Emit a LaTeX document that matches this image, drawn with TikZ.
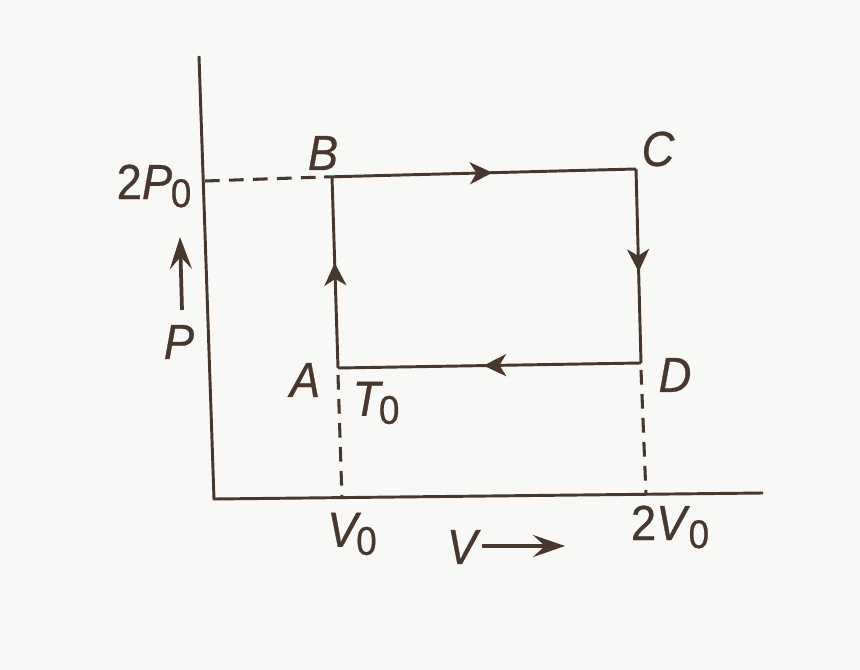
\documentclass[tikz,border=0pt]{standalone}
\usepackage{fontspec}
\setmainfont[FakeStretch=0.92,FakeBold=0.6]{Liberation Sans}
\usetikzlibrary{arrows.meta,decorations.markings}
\definecolor{ink}{HTML}{47372D}
\definecolor{paper}{HTML}{F8F8F7}
\tikzset{
 ln/.style={draw=ink,line width=2.2pt},
 dsh/.style={draw=ink,line width=2.3pt,dash pattern=on 11pt off 7pt},
 mid/.style={postaction={decorate},decoration={markings,mark=at position #1 with {\arrow{Stealth[length=17pt,width=16.5pt,inset=5pt,color=ink]}}}},
 lbl/.style={text=ink,font=\fontsize{37}{37}\selectfont\itshape,inner sep=0pt},
 lbr/.style={text=ink,font=\fontsize{37}{37}\selectfont,inner sep=0pt},
 ar/.style={draw=ink,line width=2.8pt,-{Stealth[length=24pt,width=16.5pt,inset=9pt]}}
}
\newcommand{\zsub}{\raisebox{-6pt}{\fontsize{30}{30}\selectfont\upshape 0}}
\begin{document}
\begin{tikzpicture}[x=0.75pt,y=-0.75pt]
\useasboundingbox (0,0) rectangle (860,670);
\fill[paper] (0,0) rectangle (860,670);
\coordinate (O) at (214,499);
\coordinate (Y) at (199,56);
\coordinate (X) at (763,493);
\coordinate (A) at (338,368);
\coordinate (B) at (332,177);
\coordinate (B2) at (324,177);
\coordinate (C) at (636,169);
\coordinate (D) at (641,363);
\coordinate (A2) at (338,375);
\coordinate (D2) at (641,370);
\coordinate (V1) at (342,499);
\coordinate (V2) at (646,495);
\coordinate (P2) at (205,181);
\draw[ln] (Y) -- (O) -- (X);
\draw[ln,mid=0.55] (A) -- (B);
\draw[ln,mid=0.54] (B2) -- (C);
\draw[ln,mid=0.53] (C) -- (D);
\draw[ln,mid=0.52] (D) -- (A);
\draw[dsh] (A2) -- (V1);
\draw[dsh] (D2) -- (V2);
\draw[dsh] (P2) -- (B2);
\coordinate (pa) at (182,310);
\coordinate (pb) at (180,237);
\draw[ar] (pa) -- (pb);
\coordinate (va) at (482,546);
\coordinate (vb) at (565,546);
\draw[ar] (va) -- (vb);
\node[lbl] (lB) at (323,153) {B};
\node[lbl] (lC) at (658,149) {C};
\node[lbl] (lA) at (305,380) {A};
\node[lbl] (lD) at (675,375) {D};
\node[lbl] (lP) at (179,342) {P};
\node[lbl] (lV) at (462,547) {V};
\node[lbr] (l2P) at (154,186) {2\textit{P}\kern-1pt\zsub};
\node[lbl] (lT) at (376,403) {T\kern-1pt\zsub};
\node[lbl] (lV0) at (352,534) {V\kern-1pt\zsub};
\node[lbr] (l2V) at (670,527) {2\textit{V}\kern-1pt\zsub};
\end{tikzpicture}
\end{document}
